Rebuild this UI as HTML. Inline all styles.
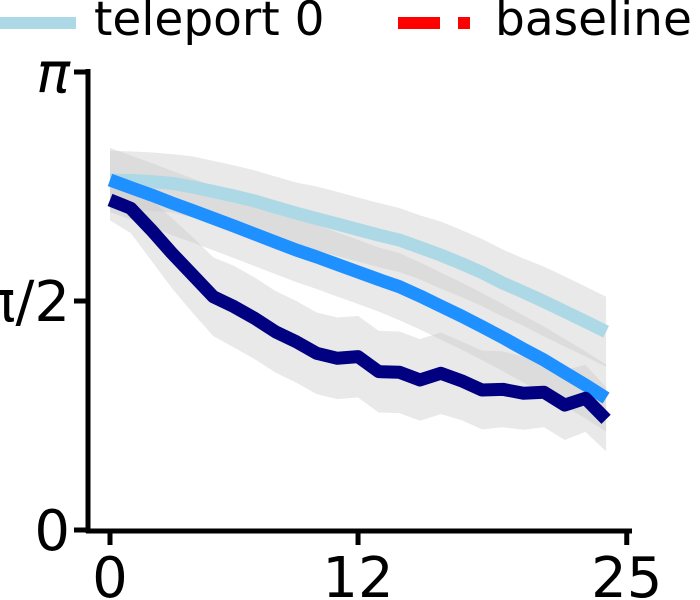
<!DOCTYPE html>
<html><head><meta charset="utf-8"><style>
html,body{margin:0;padding:0;background:#fff;}
svg{display:block;font-family:"DejaVu Sans","Liberation Sans",sans-serif;}
</style></head><body>
<svg id="chart" width="700" height="600" viewBox="0 0 700 600">
  <g id="legend">
    <g>
      <line x1="0" y1="23" x2="76" y2="23" stroke="#add8e6" stroke-width="12"/>
      <text x="94" y="35" font-size="47">teleport 0</text>
    </g>
    <g>
      <line x1="398" y1="23" x2="440" y2="23" stroke="#ff0000" stroke-width="12"/>
      <line x1="458" y1="23" x2="470" y2="23" stroke="#ff0000" stroke-width="12"/>
      <text x="495" y="35" font-size="47">baseline</text>
    </g>
  </g>
  <g id="bands"></g>
  <g id="lines"></g>
  <g id="axes"></g>
</svg>
<script>
const steps = [0,1,2,3,4,5,6,7,8,9,10,11,12,13,14,15,16,17,18,19,20,21,22,23,24];
const lightValues = [2.401,2.397,2.390,2.378,2.353,2.322,2.291,2.257,2.215,2.174,2.136,2.099,2.061,2.023,1.989,1.938,1.886,1.828,1.766,1.694,1.632,1.567,1.499,1.430,1.360];
const lightSpread = [0.20,0.20,0.20,0.20,0.21,0.21,0.21,0.21,0.21,0.21,0.22,0.22,0.22,0.22,0.22,0.22,0.23,0.23,0.23,0.23,0.23,0.24,0.24,0.24,0.24];
const blueValues = [2.401,2.349,2.298,2.243,2.191,2.138,2.085,2.030,1.975,1.921,1.873,1.821,1.770,1.718,1.669,1.605,1.536,1.468,1.395,1.320,1.241,1.166,1.080,0.995,0.905];
const blueSpread = [0.22,0.22,0.22,0.22,0.22,0.22,0.22,0.22,0.22,0.22,0.22,0.22,0.22,0.22,0.23,0.23,0.23,0.23,0.23,0.23,0.23,0.23,0.23,0.23,0.23];
const darkValues = [2.264,2.207,2.058,1.898,1.749,1.600,1.532,1.452,1.360,1.292,1.212,1.178,1.189,1.086,1.082,1.029,1.075,1.024,0.960,0.965,0.938,0.945,0.857,0.903,0.759];
const darkSpread = [0.14,0.17,0.21,0.24,0.26,0.27,0.28,0.28,0.28,0.28,0.28,0.28,0.28,0.28,0.28,0.28,0.28,0.27,0.27,0.26,0.25,0.24,0.24,0.23,0.22];
const xTicks = [0,12,25];
const xTickLabels = ["0","12","25"];
const yTicks = [0, Math.PI/2, Math.PI];
const yTickLabels = ["0","π/2","π"];

const NS="http://www.w3.org/2000/svg";
function xs(v){return 110 + v*20.67;}
function ys(v){return 530 - v/Math.PI*458;}
function mk(tag,attrs,parent){const e=document.createElementNS(NS,tag);for(const k in attrs)e.setAttribute(k,attrs[k]);parent.appendChild(e);return e;}

const bands=document.getElementById('bands');
const lines=document.getElementById('lines');
const axes=document.getElementById('axes');

function band(vals,spread,name){
  let up=steps.map((s,i)=>xs(s)+','+ys(vals[i]+spread[i]));
  let lo=steps.map((s,i)=>xs(s)+','+ys(vals[i]-spread[i])).reverse();
  const p=mk('polygon',{points:up.concat(lo).join(' '),fill:'#c8c8c8','fill-opacity':'0.4'},bands);
  
  
}
band(lightValues,lightSpread,'band-teleport-0');
band(blueValues,blueSpread,'band-blue-series');
band(darkValues,darkSpread,'band-navy-series');

function line(vals,color,name){
  const pts=steps.map((s,i)=>xs(s)+','+ys(vals[i])).join(' ');
  const p=mk('polyline',{points:pts,fill:'none',stroke:color,'stroke-width':'13','stroke-linejoin':'round'},lines);
  
  
}
line(lightValues,'#add8e6','line-teleport-0');
line(blueValues,'#1e90ff','line-blue-series');
line(darkValues,'#000080','line-navy-series');

const ya=mk('line',{x1:88,y1:69,x2:88,y2:533,stroke:'#000','stroke-width':5},axes);


const xa=mk('line',{x1:86,y1:531,x2:632,y2:531,stroke:'#000','stroke-width':5},axes);



xTicks.forEach((t,i)=>{
  const x=xs(t);
  const tk=mk('line',{x1:x,y1:531,x2:x,y2:545,stroke:'#000','stroke-width':5},axes);
  
  
  const tx=mk('text',{x:x,y:597,'font-size':'56','text-anchor':'middle'},axes);
  tx.textContent=xTickLabels[i];
  
  
});
yTicks.forEach((t,i)=>{
  const y=ys(t);
  const tk=mk('line',{x1:74,y1:y,x2:88,y2:y,stroke:'#000','stroke-width':5},axes);
  
  
  const tx=mk('text',{x:70,y:y+20,'font-size':'56','text-anchor':'end'},axes);
  if(yTickLabels[i]==='π'){tx.setAttribute('font-style','italic');}
  tx.textContent=yTickLabels[i];
  
  
});
</script>
</body></html>
